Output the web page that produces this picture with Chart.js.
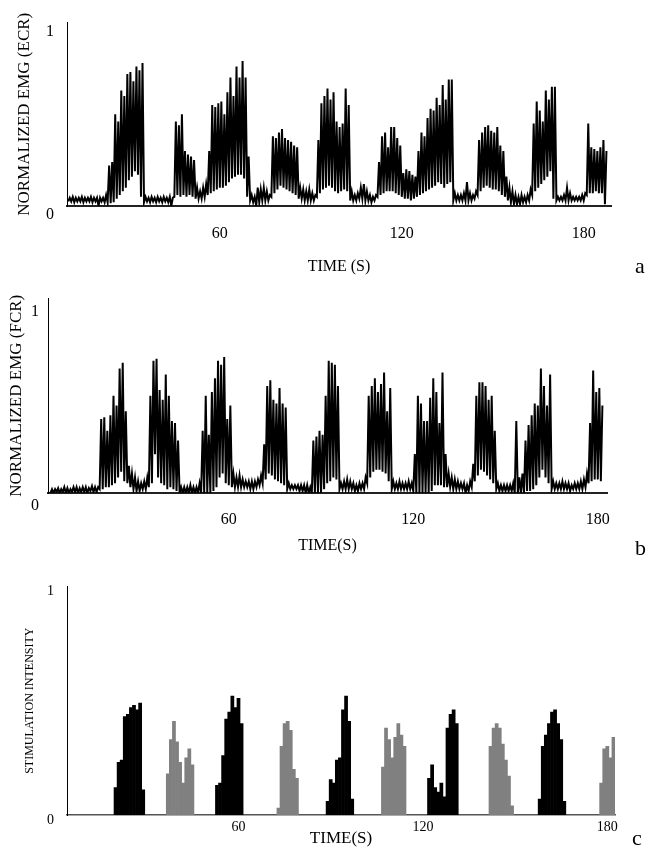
<!DOCTYPE html>
<html>
<head>
<meta charset="utf-8">
<script src="https://cdn.jsdelivr.net/npm/chart.js@4.4.1/dist/chart.umd.min.js"></script>
<style>
  body { margin: 0; background: #fff; }
  #page { position: relative; width: 662px; height: 852px; }
  canvas { position: absolute; left: 0; }
  .tag { position: absolute; font-family: "Liberation Serif", serif; font-size: 22px; line-height: 1; color: #000; }
</style>
</head>
<body>
<div id="page">
  <canvas id="ecrChart" width="662" height="280" style="top:0"></canvas>
  <canvas id="fcrChart" width="662" height="285" style="top:280px"></canvas>
  <canvas id="stimChart" width="662" height="287" style="top:565px"></canvas>
  <div class="tag" style="left:635px;top:255px">a</div>
  <div class="tag" style="left:635px;top:537px">b</div>
  <div class="tag" style="left:632px;top:827px">c</div>
</div>
<script>
// tick labels
const timeTicks = [60, 120, 180];
const levelTicks = [0, 1];

// EMG is kept as a min/max envelope, one pair per second
// ECR (panel a), first second = 10 s
const ecrStart = 10;
const ecrHigh = [
  0.045,0.05,0.045,0.045,0.05,0.045,0.045,0.05,0.045,0.045,
  0.045,0.045,0.06,0.22,0.24,0.50,0.46,0.63,0.60,0.72,
  0.73,0.68,0.76,0.74,0.78,0.05,0.045,0.05,0.045,0.05,
  0.045,0.05,0.045,0.05,0.045,0.46,0.44,0.50,0.30,0.28,
  0.27,0.25,0.10,0.08,0.10,0.12,0.30,0.55,0.54,0.56,
  0.57,0.50,0.62,0.70,0.60,0.76,0.70,0.79,0.70,0.27,
  0.06,0.05,0.10,0.09,0.10,0.08,0.06,0.38,0.37,0.40,
  0.42,0.37,0.36,0.35,0.33,0.32,0.10,0.09,0.08,0.09,
  0.07,0.06,0.36,0.56,0.60,0.64,0.58,0.62,0.46,0.43,
  0.45,0.64,0.55,0.08,0.06,0.07,0.10,0.12,0.08,0.06,
  0.05,0.06,0.24,0.38,0.40,0.32,0.43,0.43,0.37,0.33,
  0.18,0.20,0.19,0.17,0.16,0.30,0.40,0.38,0.48,0.53,
  0.52,0.59,0.55,0.66,0.58,0.69,0.69,0.07,0.06,0.06,
  0.07,0.13,0.07,0.06,0.08,0.36,0.40,0.43,0.44,0.41,
  0.40,0.43,0.33,0.30,0.16,0.10,0.08,0.06,0.05,0.06,
  0.05,0.06,0.09,0.45,0.57,0.52,0.46,0.63,0.58,0.65,
  0.65,0.05,0.05,0.06,0.10,0.07,0.05,0.05,0.05,0.06,
  0.07,0.45,0.32,0.31,0.30,0.32,0.36,0.30
];
const ecrLow = [
  0.025,0.025,0.02,0.025,0.025,0.02,0.025,0.025,0.02,0.025,
  0.0,0.025,0.02,0.02,0.015,0.02,0.04,0.06,0.08,0.10,
  0.14,0.16,0.19,0.17,0.05,0.02,0.025,0.02,0.025,0.02,
  0.025,0.02,0.025,0.02,0.0,0.05,0.06,0.05,0.06,0.05,
  0.06,0.05,0.04,0.04,0.04,0.05,0.06,0.07,0.08,0.09,
  0.10,0.10,0.11,0.13,0.15,0.16,0.17,0.17,0.15,0.05,
  0.03,0.02,0.0,0.02,0.03,0.03,0.03,0.05,0.07,0.09,
  0.11,0.10,0.09,0.08,0.07,0.06,0.04,0.04,0.03,0.03,
  0.03,0.03,0.05,0.07,0.09,0.10,0.11,0.10,0.08,0.07,
  0.08,0.09,0.08,0.03,0.03,0.03,0.04,0.04,0.03,0.03,
  0.02,0.03,0.05,0.06,0.07,0.08,0.08,0.08,0.07,0.06,
  0.05,0.04,0.04,0.03,0.04,0.05,0.06,0.07,0.08,0.09,
  0.10,0.11,0.13,0.12,0.10,0.12,0.13,0.03,0.03,0.03,
  0.03,0.03,0.03,0.03,0.04,0.06,0.08,0.10,0.11,0.10,
  0.09,0.09,0.08,0.06,0.05,0.03,0.02,0.01,0.01,0.01,
  0.02,0.02,0.03,0.06,0.08,0.10,0.12,0.14,0.16,0.19,
  0.04,0.03,0.03,0.03,0.03,0.03,0.03,0.03,0.03,0.03,
  0.03,0.06,0.07,0.07,0.08,0.07,0.07,0.01
];

// FCR (panel b), first second = 2 s
const fcrStart = 2;
const fcrHigh = [
  0.02,0.02,0.025,0.02,0.03,0.025,0.02,0.03,0.03,0.025,
  0.03,0.03,0.025,0.035,0.03,0.03,0.38,0.39,0.32,0.40,
  0.50,0.45,0.64,0.67,0.42,0.14,0.10,0.08,0.06,0.05,
  0.06,0.08,0.50,0.68,0.69,0.53,0.48,0.61,0.50,0.37,
  0.36,0.27,0.03,0.03,0.03,0.04,0.03,0.03,0.05,0.32,
  0.50,0.30,0.52,0.59,0.68,0.66,0.70,0.38,0.45,0.10,
  0.08,0.09,0.07,0.06,0.06,0.06,0.06,0.07,0.09,0.25,
  0.55,0.58,0.48,0.46,0.54,0.46,0.44,0.05,0.04,0.04,
  0.04,0.04,0.04,0.04,0.03,0.27,0.29,0.32,0.30,0.50,
  0.68,0.67,0.66,0.55,0.05,0.06,0.07,0.06,0.05,0.04,
  0.05,0.05,0.08,0.50,0.55,0.59,0.52,0.56,0.62,0.42,
  0.54,0.06,0.05,0.06,0.05,0.05,0.06,0.05,0.20,0.50,
  0.46,0.37,0.37,0.49,0.59,0.52,0.36,0.62,0.20,0.10,
  0.08,0.07,0.06,0.05,0.05,0.04,0.06,0.15,0.50,0.57,
  0.57,0.55,0.48,0.50,0.32,0.05,0.04,0.04,0.04,0.04,
  0.05,0.37,0.08,0.10,0.27,0.35,0.40,0.46,0.45,0.64,
  0.55,0.45,0.61,0.06,0.05,0.05,0.06,0.05,0.05,0.04,
  0.05,0.05,0.06,0.07,0.10,0.36,0.63,0.52,0.54,0.45
];
const fcrLow = [
  0,0,0.005,0,0.005,0,0,0.005,0.005,0,
  0.005,0.005,0,0.01,0.005,0.005,0.02,0.02,0.03,0.03,
  0.04,0.05,0.08,0.11,0.06,0.05,0.03,0.02,0.01,0.01,
  0.02,0.02,0.03,0.05,0.20,0.08,0.05,0.04,0.02,0.03,
  0.02,0.01,0,0,0,0,0,0,0,0,
  0,0,0,0.01,0.03,0.08,0.10,0.05,0.04,0.03,
  0.03,0.03,0.03,0.03,0.03,0.02,0.02,0.03,0.04,0.05,
  0.07,0.10,0.09,0.07,0.06,0.05,0.04,0.02,0.02,0.02,
  0.02,0.01,0.01,0,0,0,0,0,0,0.02,
  0.05,0.06,0.08,0.07,0.02,0.02,0.02,0.02,0.02,0.01,
  0.01,0.02,0.02,0.05,0.08,0.11,0.12,0.12,0.11,0.10,
  0.06,0.02,0.02,0.02,0.02,0.02,0.02,0.02,0.01,0,
  0,0,0,0,0.01,0.04,0.04,0.04,0.03,0.03,
  0.03,0.02,0.02,0.02,0.02,0,0.01,0.03,0.06,0.09,
  0.12,0.11,0.09,0.07,0.05,0.02,0.01,0.01,0.01,0.01,
  0.01,0,0,0,0,0.01,0.01,0.02,0.04,0.08,
  0.12,0.08,0.05,0.02,0.02,0.02,0.02,0.02,0.02,0.01,
  0.02,0.02,0.02,0.02,0.03,0.05,0.06,0.07,0.07,0.06
];

// stimulation (panel c): onset second of each burst and its levels per second
const ecrStimOnset = [20, 53, 89, 122, 158];
const ecrStimLevels = [
  [0.12,0.23,0.24,0.43,0.44,0.47,0.48,0.46,0.49,0.11],
  [0.13,0.14,0.26,0.42,0.45,0.52,0.47,0.51,0.40],
  [0.06,0.155,0.14,0.24,0.25,0.46,0.52,0.41,0.07],
  [0.16,0.22,0.12,0.10,0.14,0.08,0.38,0.44,0.46,0.40],
  [0.07,0.30,0.35,0.40,0.45,0.46,0.40,0.33,0.06]
];
const fcrStimOnset = [37, 73, 107, 142, 178];
const fcrStimLevels = [
  [0.18,0.33,0.41,0.32,0.23,0.14,0.25,0.29,0.22],
  [0.03,0.30,0.40,0.41,0.37,0.20,0.16],
  [0.21,0.38,0.33,0.25,0.34,0.40,0.35,0.30],
  [0.30,0.38,0.40,0.38,0.31,0.24,0.17,0.04],
  [0.14,0.29,0.30,0.25,0.34]
];

const serif = 'Liberation Serif';
Chart.defaults.font.family = serif;
Chart.defaults.color = '#000';

function envelope(t0, low, high) {
  const pts = [];
  for (let i = 0; i < high.length; i++) {
    pts.push({ x: t0 + i, y: low[i] });
    pts.push({ x: t0 + i + 0.5, y: high[i] });
  }
  return pts;
}

function bursts(onsets, levels) {
  const pts = [];
  onsets.forEach((t0, b) => {
    levels[b].forEach((v, k) => pts.push({ x: t0 + k, y: v }));
  });
  return pts;
}

function scales(p) {
  return {
    x: {
      type: 'linear', min: p.xMin, max: p.xMax, offset: false,
      grid: { display: false, drawTicks: false },
      border: { display: true, color: p.xBorderColor, width: p.xBorderWidth },
      afterBuildTicks: (s) => { s.ticks = timeTicks.map((v) => ({ value: v })); },
      afterFit: (s) => { s.height = p.xHeight; },
      ticks: { color: '#000', padding: p.xTickPad, maxRotation: 0, autoSkip: false,
               font: { family: serif, size: p.xTickSize } },
      title: { display: true, text: p.xTitle, color: '#000',
               font: { family: serif, size: p.xTitleSize },
               padding: { top: 0, bottom: p.xTitleBottom } }
    },
    y: {
      type: 'linear', min: 0, max: 1,
      grid: { display: false, drawTicks: false },
      border: { display: true, color: '#000', width: 1 },
      afterBuildTicks: (s) => { s.ticks = levelTicks.map((v) => ({ value: v })); },
      afterFit: (s) => { s.width = p.yWidth; },
      ticks: { color: '#000', padding: p.yTickPad, labelOffset: p.yLabelOffset,
               font: { family: serif, size: p.yTickSize } },
      title: { display: true, text: p.yTitle, color: '#000',
               font: { family: serif, size: p.yTitleSize },
               padding: { top: p.yTitleTop, bottom: 0 } }
    }
  };
}

const common = {
  responsive: false,
  devicePixelRatio: 1,
  animation: false,
  events: [],
  plugins: { legend: { display: false }, tooltip: { enabled: false } }
};

new Chart(document.getElementById('ecrChart'), {
  type: 'line',
  data: {
    datasets: [{
      data: envelope(ecrStart, ecrLow, ecrHigh),
      borderColor: '#000', borderWidth: 2, pointRadius: 0, tension: 0, fill: false
    }]
  },
  options: {
    ...common,
    layout: { padding: { top: 15, right: 51, bottom: 0, left: 0 } },
    scales: scales({
      xMin: 9.6, xMax: 189, xHeight: 74, xTickPad: 18, xTickSize: 16,
      xTitle: 'TIME (S)', xTitleSize: 16, xTitleBottom: 4,
      xBorderColor: '#222', xBorderWidth: 2,
      yWidth: 67, yTickPad: 13, yLabelOffset: 9, yTickSize: 16,
      yTitle: 'NORMALIZED EMG (ECR)', yTitleSize: 17, yTitleTop: 14
    })
  }
});

new Chart(document.getElementById('fcrChart'), {
  type: 'line',
  data: {
    datasets: [{
      data: envelope(fcrStart, fcrLow, fcrHigh),
      borderColor: '#000', borderWidth: 2, pointRadius: 0, tension: 0, fill: false
    }]
  },
  options: {
    ...common,
    layout: { padding: { top: 15, right: 55, bottom: 0, left: 0 } },
    scales: scales({
      xMin: 1.2, xMax: 183, xHeight: 72, xTickPad: 17, xTickSize: 16,
      xTitle: 'TIME(S)', xTitleSize: 16, xTitleBottom: 10,
      xBorderColor: '#222', xBorderWidth: 2,
      yWidth: 48, yTickPad: 9, yLabelOffset: 13, yTickSize: 16,
      yTitle: 'NORMALIZED EMG (FCR)', yTitleSize: 17, yTitleTop: 6
    })
  }
});

new Chart(document.getElementById('stimChart'), {
  type: 'bar',
  data: {
    datasets: [
      { data: bursts(ecrStimOnset, ecrStimLevels), backgroundColor: '#000' },
      { data: bursts(fcrStimOnset, fcrStimLevels), backgroundColor: '#808080' }
    ]
  },
  options: {
    ...common,
    datasets: { bar: { grouped: false, barPercentage: 1, categoryPercentage: 1, borderWidth: 0 } },
    layout: { padding: { top: 12, right: 47, bottom: 0, left: 0 } },
    scales: scales({
      xMin: 4.2, xMax: 182.5, xHeight: 37, xTickPad: 4, xTickSize: 14,
      xTitle: 'TIME(S)', xTitleSize: 17, xTitleBottom: 3,
      xBorderColor: '#555', xBorderWidth: 1.5,
      yWidth: 67, yTickPad: 13, yLabelOffset: 5, yTickSize: 14,
      yTitle: 'STIMULATION INTENSITY', yTitleSize: 12, yTitleTop: 23
    })
  }
});
</script>
</body>
</html>
